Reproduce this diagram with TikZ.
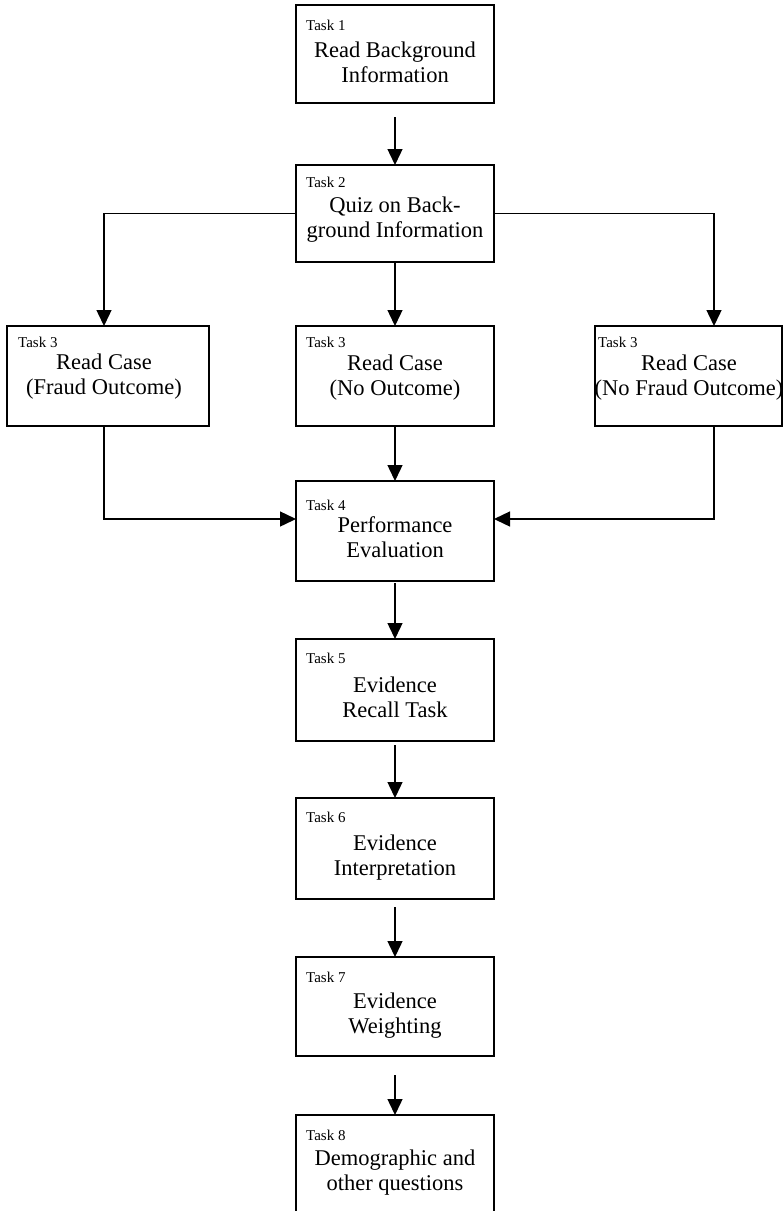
\documentclass[tikz,border=0pt]{standalone}
\usepackage{fontspec}
\setmainfont{Liberation Serif}
\usetikzlibrary{arrows.meta}
\begin{document}
\begin{tikzpicture}[x=1pt,y=-1pt,
  box/.style={draw,line width=1.4pt,anchor=north west,inner sep=0pt,outer sep=0pt},
  tasklbl/.style={anchor=base west,inner sep=0pt,font=\fontsize{15}{18}\selectfont},
  maintxt/.style={anchor=base,inner sep=0pt,align=center,font=\fontsize{22.5}{25}\selectfont},
  arr/.style={line width=1.4pt,-{Triangle[length=16pt,width=15pt]}}]
\useasboundingbox (0,0) rectangle (783,1211);
\clip (0,0) rectangle (783,1211);
% boxes
\node[box,minimum width=198pt,minimum height=98pt] (t1) at (296,5) {};
\node[box,minimum width=198pt,minimum height=97pt] (t2) at (296,165) {};
\node[box,minimum width=202pt,minimum height=100pt] (t3a) at (7,326) {};
\node[box,minimum width=198pt,minimum height=100pt] (t3b) at (296,326) {};
\node[box,minimum width=187pt,minimum height=100pt] (t3c) at (595,326) {};
\node[box,minimum width=198pt,minimum height=100pt] (t4) at (296,481) {};
\node[box,minimum width=198pt,minimum height=102pt] (t5) at (296,639) {};
\node[box,minimum width=198pt,minimum height=101pt] (t6) at (296,798) {};
\node[box,minimum width=198pt,minimum height=99pt] (t7) at (296,957) {};
\node[box,minimum width=198pt,minimum height=130pt] (t8) at (296,1115) {};
% labels (main text anchored at the baseline of its last line)
\node[tasklbl] (l1) at (306,30) {Task 1};
\node[maintxt] (m1) at (395,82) {Read Background\\Information};
\node[tasklbl] (l2) at (306,187) {Task 2};
\node[maintxt] (m2) at (395,237) {Quiz on Back-\\ground Information};
\node[tasklbl] (l3a) at (18,347) {Task 3};
\node[maintxt] (m3a) at (104,394) {Read Case\\(Fraud Outcome)};
\node[tasklbl] (l3b) at (306,347) {Task 3};
\node[maintxt] (m3b) at (395,395) {Read Case\\(No Outcome)};
\node[tasklbl] (l3c) at (598,347) {Task 3};
\node[maintxt] (m3c) at (689,395) {Read Case\\(No Fraud Outcome)};
\node[tasklbl] (l4) at (306,510) {Task 4};
\node[maintxt] (m4) at (395,557) {Performance\\Evaluation};
\node[tasklbl] (l5) at (306,663) {Task 5};
\node[maintxt] (m5) at (395,717) {Evidence\\Recall Task};
\node[tasklbl] (l6) at (306,822) {Task 6};
\node[maintxt] (m6) at (395,875) {Evidence\\Interpretation};
\node[tasklbl] (l7) at (306,982) {Task 7};
\node[maintxt] (m7) at (395,1033) {Evidence\\Weighting};
\node[tasklbl] (l8) at (306,1140) {Task 8};
\node[maintxt] (m8) at (395,1190) {Demographic and\\other questions};
% helper coordinates
\coordinate (lx) at (104,0);
\coordinate (rx) at (714,0);
\coordinate (jy) at (0,519);
% connectors
\draw[arr,shorten <=14pt] (t1) -- (t2);
\draw[arr] (t2.west) -- (t2.west -| lx) -- (t3a.north -| lx);
\draw[arr] (t2.east) -- (t2.east -| rx) -- (t3c.north -| rx);
\draw[arr] (t2) -- (t3b);
\draw[arr] (t3a.south -| lx) -- (lx |- jy) -- (t4.west |- jy);
\draw[arr] (t3c.south -| rx) -- (rx |- jy) -- (t4.east |- jy);
\draw[arr] (t3b) -- (t4);
\draw[arr,shorten <=2pt] (t4) -- (t5);
\draw[arr,shorten <=4pt] (t5) -- (t6);
\draw[arr,shorten <=8pt] (t6) -- (t7);
\draw[arr,shorten <=19pt] (t7) -- (t8);
\end{tikzpicture}
\end{document}
